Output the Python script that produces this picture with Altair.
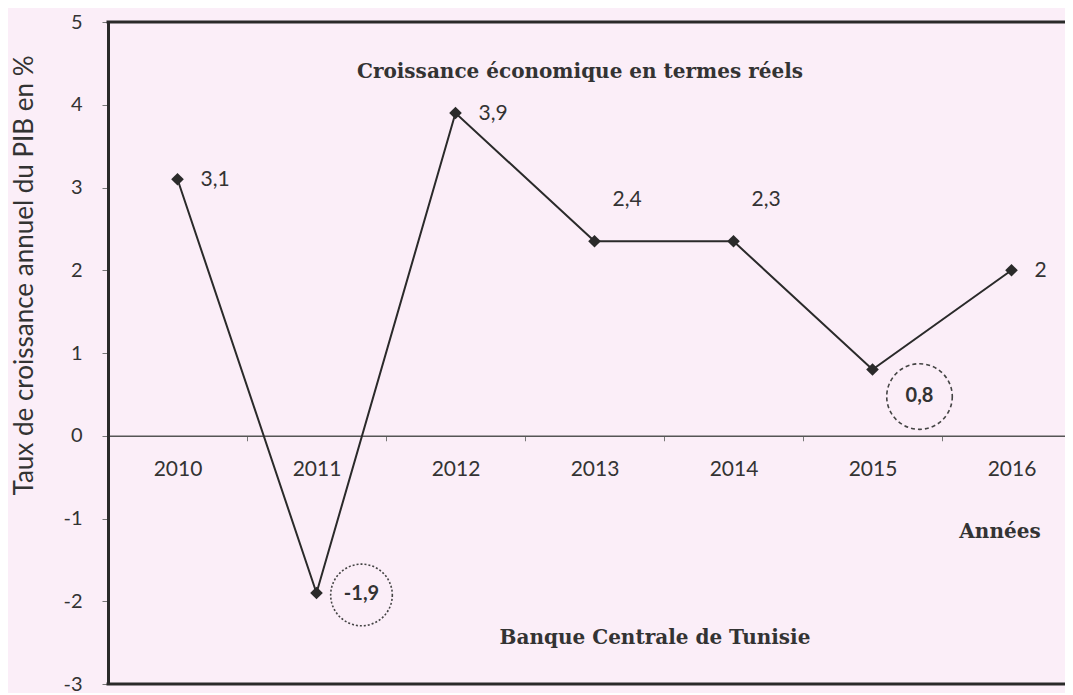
import altair as alt
import pandas as pd

# ---- data ----
years = ["2010", "2011", "2012", "2013", "2014", "2015", "2016"]
values = [3.1, -1.9, 3.9, 2.35, 2.35, 0.8, 2.0]
labels = ["3,1", "-1,9", "3,9", "2,4", "2,3", "0,8", "2"]
y_ticks = [5, 4, 3, 2, 1, 0, -1, -2, -3]

title_text = "Croissance économique en termes réels"
x_title_text = "Années"
source_text = "Banque Centrale de Tunisie"
y_title_text = "Taux de croissance annuel du PIB en %"

# label groups (which labels go where)
side_labels = ["3,1", "3,9", "2"]
above_labels = ["2,4", "2,3"]

df = pd.DataFrame({"year": years, "value": values, "label": labels})

# ---- layout ----
W, H = 957, 662
SPAN = 973  # full band range (right part runs off the page like the reference)
Y_MIN, Y_MAX = -3, 5
zero_offset = -H * (0 - Y_MIN) / (Y_MAX - Y_MIN)

BG = "#fbeef8"
INK = "#2a2a2a"
TXT = "#333333"
SANS = "Lato"
SERIF = "DejaVu Serif"

x_enc = alt.X(
    "year:O",
    scale=alt.Scale(type="band", paddingInner=0, paddingOuter=0, range=[0, SPAN]),
    axis=alt.Axis(
        orient="bottom", offset=zero_offset, title=None, labelAngle=0,
        tickBand="extent", tickSize=5, tickColor="#777777",
        domainColor="#555555", domainWidth=1.3,
        labelFont=SANS, labelFontSize=21, labelColor=TXT, labelPadding=18,
        grid=False,
    ),
)
y_scale = alt.Scale(domain=[Y_MIN, Y_MAX], nice=False, zero=False)
y_enc = alt.Y(
    "value:Q",
    scale=y_scale,
    axis=alt.Axis(
        values=y_ticks, grid=False, title=y_title_text,
        labelExpr="datum.value + ''",
        domainColor=INK, domainWidth=3, tickColor="#777777", tickSize=6,
        labelFont=SANS, labelFontSize=20, labelColor=TXT, labelPadding=20,
        titleFont=SANS, titleFontSize=26, titleFontWeight="normal", titleColor=TXT,
        titleX=-84, titleY=253, titleAlign="center", titleBaseline="middle",
    ),
)

base = alt.Chart(df)

line = base.mark_line(color=INK, strokeWidth=2).encode(x=x_enc, y=y_enc)
pts = base.mark_point(shape="diamond", filled=True, size=160, color=INK, opacity=1).encode(
    x="year:O", y="value:Q"
)

lab_side = base.transform_filter(alt.FieldOneOfPredicate(field="label", oneOf=side_labels)).mark_text(
    align="left", baseline="middle", dx=23, dy=1, font=SANS, fontSize=21, color=TXT
).encode(x="year:O", y="value:Q", text="label:N")

lab_above = base.transform_filter(alt.FieldOneOfPredicate(field="label", oneOf=above_labels)).mark_text(
    align="left", baseline="middle", dx=18, dy=-41, font=SANS, fontSize=21, color=TXT
).encode(x="year:O", y="value:Q", text="label:N")

lab_c1 = base.transform_filter(alt.datum.label == "-1,9").mark_text(
    align="center", baseline="middle", dx=45, dy=1, font=SANS, fontSize=20, fontWeight="bold", color=TXT
).encode(x="year:O", y="value:Q", text="label:N")
circ1 = base.transform_filter(alt.datum.label == "-1,9").mark_point(
    shape="circle", filled=False, size=3800, xOffset=45, yOffset=2,
    color="#444444", strokeWidth=1.6, strokeDash=[2, 2], opacity=1
).encode(x="year:O", y="value:Q")

lab_c2 = base.transform_filter(alt.datum.label == "0,8").mark_text(
    align="center", baseline="middle", dx=47, dy=26, font=SANS, fontSize=20, fontWeight="bold", color=TXT
).encode(x="year:O", y="value:Q", text="label:N")
circ2 = base.transform_filter(alt.datum.label == "0,8").mark_point(
    shape="circle", filled=False, size=4300, xOffset=47, yOffset=27,
    color="#444444", strokeWidth=1.6, strokeDash=[4, 3], opacity=1
).encode(x="year:O", y="value:Q")

one = pd.DataFrame({"k": [0]})
border_top = alt.Chart(one).mark_rule(color=INK, strokeWidth=3).encode(
    y=alt.datum(Y_MAX), x=alt.value(-1.5), x2=alt.value(SPAN + 20)
)
border_bot = alt.Chart(one).mark_rule(color=INK, strokeWidth=3).encode(
    y=alt.datum(Y_MIN), x=alt.value(-1.5), x2=alt.value(SPAN + 20)
)

t_title = alt.Chart(one).mark_text(
    font=SERIF, fontSize=20, fontWeight="bold", color=TXT, align="center", baseline="middle"
).encode(x=alt.value(472), y=alt.value(50), text=alt.value(title_text))
t_years = alt.Chart(one).mark_text(
    font=SERIF, fontSize=20, fontWeight="bold", color=TXT, align="center", baseline="middle"
).encode(x=alt.value(892), y=alt.value(510), text=alt.value(x_title_text))
t_src = alt.Chart(one).mark_text(
    font=SERIF, fontSize=20, fontWeight="bold", color=TXT, align="center", baseline="middle"
).encode(x=alt.value(547), y=alt.value(616), text=alt.value(source_text))

chart = alt.layer(
    border_top, border_bot, line, pts, lab_side, lab_above, circ1, lab_c1, circ2, lab_c2,
    t_title, t_years, t_src,
).properties(
    width=W, height=H,
    background=BG,
    padding={"left": 100, "right": 0, "top": 14, "bottom": 9},
    autosize=alt.AutoSizeParams(type="none"),
).configure_view(strokeWidth=0)

chart.save("out.html", embed_options={"renderer": "svg", "actions": False})
